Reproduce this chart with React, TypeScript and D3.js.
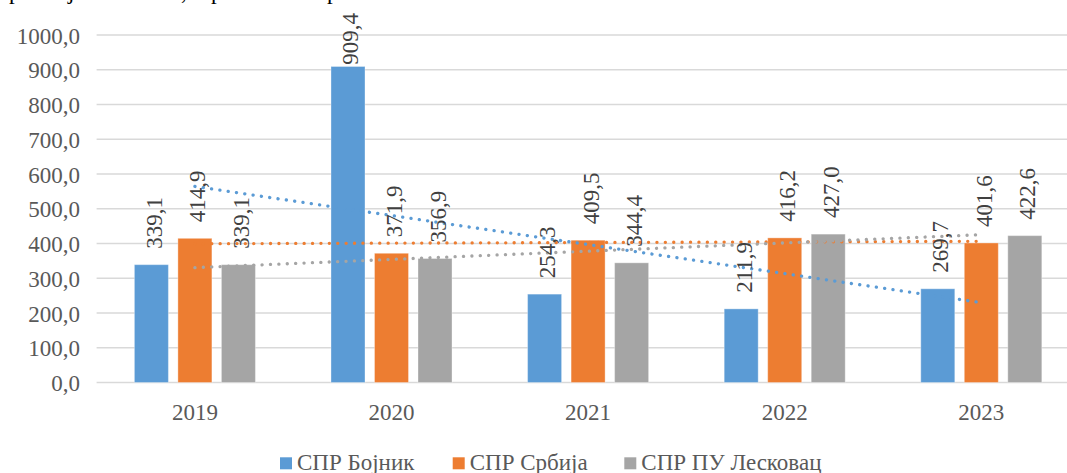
import React, { useEffect } from "react";
import * as d3 from "d3";

// Years on the x axis
const years = ["2019", "2020", "2021", "2022", "2023"];

// Series names and values per year
const seriesNames = ["СПР Бојник", "СПР Србија", "СПР ПУ Лесковац"];
const bojnik = [339.1, 909.4, 254.3, 211.9, 269.7];
const srbija = [414.9, 371.9, 409.5, 416.2, 401.6];
const leskovac = [339.1, 356.9, 344.4, 427.0, 422.6];

// Y axis ticks
const yTicks = [0, 100, 200, 300, 400, 500, 600, 700, 800, 900, 1000];

const colors = ["#5B9BD5", "#ED7D31", "#A5A5A5"];

const W = 1067;
const H = 473;
const FONT = '"Liberation Serif", "DejaVu Serif", serif';
const FS = 23;

const fmt = (v: number) => v.toFixed(1).replace(".", ",");

// least-squares linear trend over category index 1..n
function linearTrend(values: number[]) {
  const xs = values.map((_, i) => i + 1);
  const mx = d3.mean(xs) as number;
  const my = d3.mean(values) as number;
  let num = 0;
  let den = 0;
  xs.forEach((x, i) => {
    num += (x - mx) * (values[i] - my);
    den += (x - mx) * (x - mx);
  });
  const slope = num / den;
  return xs.map((x) => my + slope * (x - mx));
}

export default function App() {
  useEffect(() => {
    document.body.style.margin = "0";
  }, []);

  const series = [bojnik, srbija, leskovac];

  const x0 = d3.scaleBand<string>().domain(years).range([96.6, 1079.6]).padding(0);
  const y = d3.scaleLinear().domain([0, 1000]).range([382.5, 35]);
  const bw = x0.bandwidth();
  const barW = bw * 0.173;
  const step = bw * 0.2213;
  const barCenter = (i: number, s: number) => (x0(years[i]) as number) + bw / 2 + (s - 1) * step;

  const trendLine = d3
    .line<number>()
    .x((_, i) => (x0(years[i]) as number) + bw / 2)
    .y((v) => y(v));

  const labelLen = (t: string) => {
    let len = 0;
    for (const c of t) len += c === "," ? 0.25 : 0.5;
    return len * FS;
  };

  const textStyle = { fontFamily: FONT, fontSize: FS };

  return (
    <svg
      width={W}
      height={H}
      style={{ position: "absolute", left: 0, top: 0, background: "#fff", fontFamily: FONT }}
    >
      {/* descenders of the preceding text line */}
      <g style={textStyle} fill="#000">
        <text x={9} y={-1.2}>р</text>
        <text x={68} y={-1.2}>ј</text>
        <text x={181} y={-1.2}>,</text>
        <text x={211} y={-1.2}>р</text>
        <text x={327} y={-1.2}>р</text>
      </g>

      {/* gridlines */}
      <g>
        {yTicks.map((t) => (
          <line key={t} x1={96.6} x2={1079.6} y1={y(t)} y2={y(t)} stroke="#D9D9D9" strokeWidth={1.3} />
        ))}
      </g>

      {/* y axis labels */}
      <g style={textStyle} fill="#595959" textAnchor="end">
        {yTicks.map((t) => (
          <text key={t} x={80} y={y(t) + 8.5}>
            {fmt(t)}
          </text>
        ))}
      </g>

      {/* bars */}
      <g>
        {series.map((vals, s) =>
          vals.map((v, i) => (
            <rect
              key={`${s}-${i}`}
              x={barCenter(i, s) - barW / 2}
              y={y(v)}
              width={barW}
              height={y(0) - y(v)}
              fill={colors[s]}
              stroke="#fff"
              strokeOpacity={0.35}
              strokeWidth={1}
            />
          ))
        )}
      </g>

      {/* dotted linear trendlines */}
      <g fill="none">
        {series.map((vals, s) => (
          <path
            key={s}
            d={trendLine(linearTrend(vals)) as string}
            stroke={colors[s]}
            strokeWidth={3.3}
            strokeLinecap="round"
            strokeDasharray="0.1 8.3"
          />
        ))}
      </g>

      {/* value labels, rotated */}
      <g style={textStyle} fill="#404040">
        {series.map((vals, s) =>
          vals.map((v, i) => {
            const t = fmt(v);
            const len = labelLen(t);
            let bottom = y(v) - 16;
            if (bottom - len < 13) bottom = 13 + len;
            const cx = barCenter(i, s);
            return (
              <text key={`${s}-${i}`} transform={`translate(${cx + 10.5},${bottom}) rotate(-90)`}>
                {t}
              </text>
            );
          })
        )}
      </g>

      {/* x axis labels */}
      <g style={textStyle} fill="#595959" textAnchor="middle">
        {years.map((yr) => (
          <text key={yr} x={(x0(yr) as number) + bw / 2} y={420}>
            {yr}
          </text>
        ))}
      </g>

      {/* legend */}
      <g style={textStyle} fill="#595959">
        {seriesNames.map((name, s) => {
          const lx = [280, 452.7, 624.3][s];
          return (
            <g key={name}>
              <rect x={lx} y={457.3} width={12} height={12} fill={colors[s]} />
              <text x={lx + 17} y={470}>
                {name}
              </text>
            </g>
          );
        })}
      </g>
    </svg>
  );
}
